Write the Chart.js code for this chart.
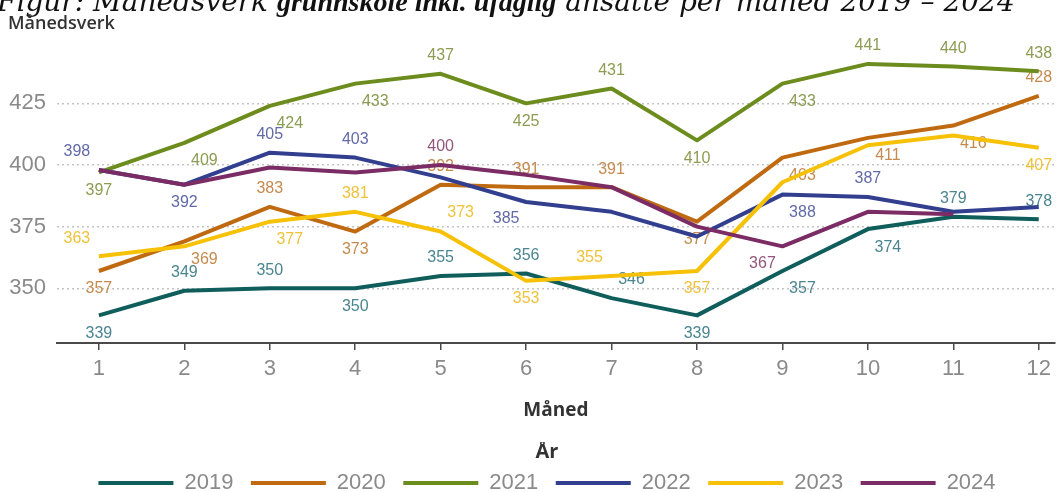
<!DOCTYPE html>
<html>
<head>
<meta charset="utf-8">
<script src="https://cdn.jsdelivr.net/npm/chart.js@4/dist/chart.umd.min.js"></script>
<style>
    body { margin: 0; background: #fff; overflow: hidden; }
    #wrap { position: relative; width: 1057px; height: 492px; overflow: hidden; }
    canvas { position: absolute; left: 0; top: 0; }
    #caption { position: absolute; left: -3px; top: -12px; white-space: nowrap; color: #111;
               font: italic 28px/28px "DejaVu Serif", serif; }
    #caption b { font-family: "Liberation Serif", serif; font-weight: bold; }
    #unit { position: absolute; left: 8px; top: 10px; color: #333;
            font: 600 18px "Open Sans", sans-serif; }
</style>
</head>
<body>
<div id="wrap">
    <canvas id="js--chart" width="1057" height="492"></canvas>
    <div id="caption">Figur: Månedsverk <b>grunnskole inkl. ufaglig</b> ansatte per måned 2019 – 2024</div>
    <div id="unit">Månedsverk</div>
</div>
<script>
const months = [1, 2, 3, 4, 5, 6, 7, 8, 9, 10, 11, 12];
const years = ["2019", "2020", "2021", "2022", "2023", "2024"];

const values2019 = [339, 349, 350, 350, 355, 356, 346, 339, 357, 374, 379, 378];
const values2020 = [357, 369, 383, 373, 392, 391, 391, 377, 403, 411, 416, 428];
const values2021 = [397, 409, 424, 433, 437, 425, 431, 410, 433, 441, 440, 438];
const values2022 = [398, 392, 405, 403, 395, 385, 381, 371, 388, 387, 381, 383];
const values2023 = [363, 367, 377, 381, 373, 353, 355, 357, 393, 408, 412, 407];
const values2024 = [398, 392, 399, 397, 400, 396, 391, 375, 367, 381, 380];

const yTicks = [350, 375, 400, 425];

// where each value label sits relative to its point (null = no label)
const spots = { a: [0, -18], b: [0, 18], ar: [20, -19], br: [20, 18], al: [-22, -18], bl: [-20, 17] };
const spots2019 = ["b", "a", "a", "b", "a", "a", "ar", "b", "br", "br", "a", "a"];
const spots2020 = ["b", "br", "a", "b", "a", "a", "a", "b", "br", "br", "br", "a"];
const spots2021 = ["b", "br", "br", "br", "a", "b", "a", "b", "br", "a", "a", "a"];
const spots2022 = ["al", "b", "a", "a", null, "bl", null, null, "br", "a", null, null];
const spots2023 = ["al", null, "br", "a", "ar", "b", "al", "b", null, null, null, "b"];
const spots2024 = [null, null, null, null, "a", null, null, null, "bl", null, null];

function line(label, data, color, labelColor, labelSpots, order){
    return {
        label: label,
        data: data,
        borderColor: color,
        backgroundColor: color,
        borderWidth: 4,
        tension: 0,
        pointRadius: 0,
        borderJoinStyle: "round",
        labelColor: labelColor,
        labelSpots: labelSpots,
        order: order
    };
}

const valueLabels = {
    id: "valueLabels",
    beforeDatasetsDraw(chart){
        const ctx = chart.ctx;
        ctx.save();
        ctx.font = '16px "Liberation Sans", sans-serif';
        ctx.textAlign = "center";
        ctx.textBaseline = "middle";
        chart.data.datasets.forEach(function(ds, i){
            const meta = chart.getDatasetMeta(i);
            meta.data.forEach(function(pt, j){
                const spot = spots[ds.labelSpots[j]];
                if(!spot){
                    return;
                }
                ctx.fillStyle = ds.labelColor;
                ctx.fillText(ds.data[j], pt.x + spot[0], pt.y + spot[1]);
            });
        });
        ctx.restore();
    }
};

const tickFont = { family: "Liberation Sans", size: 22 };

const config = {
    type: "line",
    data: {
        labels: months,
        datasets: [
            line(years[0], values2019, "#0f5e5c", "#4a8590", spots2019, 5),
            line(years[1], values2020, "#bf6a10", "#c58a4e", spots2020, 4),
            line(years[2], values2021, "#6c8c1e", "#8c9c52", spots2021, 3),
            line(years[3], values2022, "#323f8f", "#616aa6", spots2022, 2),
            line(years[4], values2023, "#f6c106", "#f0c23a", spots2023, 1),
            line(years[5], values2024, "#7c2c64", "#94557f", spots2024, 0)
        ]
    },
    options: {
        responsive: false,
        animation: false,
        layout: { padding: { left: 7, right: -30, top: 40, bottom: -12 } },
        scales: {
            x: {
                type: "linear",
                min: 0.5096,
                max: 12.187,
                afterBuildTicks: function(s){ s.ticks = months.map(function(m){ return { value: m }; }); },
                afterFit: function(s){ s.height = 99; },
                border: { display: true, color: "#4a4a4a", width: 2 },
                grid: { drawOnChartArea: false, drawTicks: true, tickLength: 7, lineWidth: 1.5, color: "#4a4a4a" },
                ticks: { color: "#8a8a8a", font: tickFont, padding: 6, maxRotation: 0 },
                title: {
                    display: true,
                    text: "Måned",
                    color: "#333",
                    font: { family: "Open Sans", size: 19, weight: "bold" },
                    padding: { top: 0, bottom: 20 }
                }
            },
            y: {
                min: 327.8,
                max: 450.7,
                afterBuildTicks: function(s){ s.ticks = yTicks.map(function(v){ return { value: v }; }); },
                afterFit: function(s){ s.width = 50; },
                border: { display: false, dash: [2, 3] },
                grid: { drawTicks: false, color: "#c4c4c4", lineWidth: 1.5 },
                ticks: { color: "#8a8a8a", font: tickFont, padding: 11 }
            }
        },
        plugins: {
            tooltip: { enabled: false },
            legend: {
                position: "bottom",
                labels: {
                    usePointStyle: true,
                    pointStyle: "line",
                    pointStyleWidth: 75,
                    padding: 17.5,
                    color: "#8a8a8a",
                    font: { family: "Liberation Sans", size: 22 },
                    sort: function(a, b){ return a.datasetIndex - b.datasetIndex; }
                },
                title: {
                    display: true,
                    text: "År",
                    color: "#333",
                    font: { family: "Open Sans", size: 20, weight: "bold", lineHeight: 1 },
                    padding: { top: 0, bottom: -7.5 }
                }
            }
        }
    },
    plugins: [valueLabels]
};

new Chart(document.getElementById("js--chart"), config);
</script>
</body>
</html>
